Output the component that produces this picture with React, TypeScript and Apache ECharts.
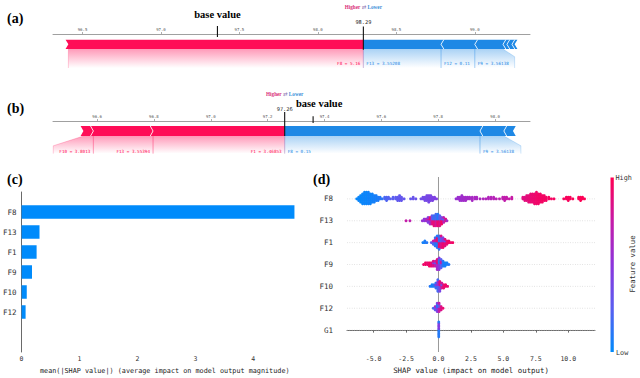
import React, { useEffect, useRef } from 'react';
import * as echarts from 'echarts';

// ---------------- (a) force plot ----------------
const forceA_ticks = [96.5, 97.0, 97.5, 98.0, 98.5, 99.0];
const forceA_base = 97.36;
const forceA_out = 98.29;
const forceA_redEdges = [96.41, 98.29];
const forceA_redLabels = ['F8 = 5.16'];
const forceA_blueEdges = [98.29, 98.785, 99.0, 99.18, 99.205, 99.237, 99.254];
const forceA_blueLabels = ['F13 = 3.55208', 'F12 = 0.11', 'F9 = 3.56138', '', '', ''];
const forceA_redReach = 96.41;
const forceA_blueReach = 99.254;

// ---------------- (b) force plot ----------------
const forceB_ticks = [96.6, 96.8, 97.0, 97.2, 97.4, 97.6, 97.8, 98.0];
const forceB_base = 97.36;
const forceB_out = 97.26;
const forceB_redEdges = [96.552, 96.587, 96.797, 97.26];
const forceB_redLabels = ['F10 = 3.8013', 'F13 = 3.55394', 'F1 = 3.46853'];
const forceB_blueEdges = [97.26, 97.947, 98.031, 98.063];
const forceB_blueLabels = ['F8 = 0.15', 'F9 = 3.56138', ''];
const forceB_redReach = 96.446;
const forceB_blueReach = 98.091;

// ---------------- (c) mean |SHAP| bars ----------------
const barFeatures = ['F8', 'F13', 'F1', 'F9', 'F10', 'F12'];
const barValues = [4.71, 0.31, 0.26, 0.18, 0.09, 0.07];
const barTicks = [0, 1, 2, 3, 4];

// ---------------- (d) beeswarm ----------------
const beeFeatures = ['F8', 'F13', 'F1', 'F9', 'F10', 'F12', 'G1'];
const beeTicks = [-5, -2.5, 0, 2.5, 5, 7.5, 10];
// columns: [shap value, number of points stacked, feature value (0 low .. 1 high)]
const beeF8 = [
  [-6.3, 1, 0.02], [-6.15, 3, 0.03], [-6.0, 5, 0.02], [-5.85, 7, 0.03], [-5.7, 8, 0.04], [-5.55, 8, 0.03],
  [-5.4, 8, 0.05], [-5.25, 7, 0.04], [-5.1, 6, 0.05], [-4.95, 5, 0.06], [-4.8, 4, 0.07], [-4.65, 3, 0.08],
  [-4.5, 2, 0.1], [-4.35, 1, 0.12],
  [-4.15, 2, 0.2], [-4.0, 3, 0.22], [-3.85, 2, 0.23], [-3.7, 1, 0.24], [-3.5, 2, 0.25], [-3.3, 2, 0.27],
  [-3.15, 3, 0.28], [-3.0, 4, 0.29], [-2.85, 3, 0.3], [-2.65, 1, 0.3],
  [-2.15, 1, 0.3], [-1.95, 2, 0.32], [-1.75, 1, 0.33],
  [-1.35, 1, 0.35], [-1.2, 2, 0.37], [-1.05, 3, 0.38], [-0.9, 4, 0.39], [-0.75, 5, 0.4], [-0.6, 4, 0.41],
  [-0.45, 3, 0.42], [-0.3, 2, 0.43], [-0.15, 1, 0.44],
  [1.35, 1, 0.55], [1.5, 2, 0.56], [1.65, 3, 0.57], [1.8, 4, 0.58], [1.95, 3, 0.59], [2.1, 3, 0.6],
  [2.25, 2, 0.6], [2.4, 2, 0.61], [2.6, 3, 0.62], [2.8, 2, 0.63], [2.95, 2, 0.63], [3.2, 1, 0.64],
  [3.45, 1, 0.65], [3.65, 1, 0.66], [3.85, 2, 0.66], [4.05, 2, 0.67], [4.25, 2, 0.68], [4.45, 1, 0.69],
  [4.7, 1, 0.7], [4.95, 2, 0.72], [5.1, 3, 0.73], [5.25, 2, 0.74], [5.45, 1, 0.75], [5.65, 2, 0.76],
  [6.5, 2, 0.86], [6.65, 3, 0.87], [6.8, 4, 0.88], [6.95, 5, 0.89], [7.1, 6, 0.9], [7.25, 6, 0.91],
  [7.4, 7, 0.92], [7.55, 8, 0.93], [7.7, 7, 0.94], [7.85, 6, 0.94], [8.0, 5, 0.95], [8.15, 4, 0.95],
  [8.3, 3, 0.95], [8.5, 2, 0.96], [8.7, 1, 0.96], [8.9, 1, 0.96],
  [9.65, 1, 0.97], [9.85, 2, 0.97], [10.0, 3, 0.97], [10.15, 2, 0.98], [10.35, 1, 0.98],
  [10.8, 2, 0.98], [10.95, 3, 0.99], [11.1, 2, 0.99], [11.25, 1, 0.99],
];
const beeF13 = [
  [-2.5, 1, 0.75], [-2.2, 1, 0.72],
  [-1.25, 1, 0.55], [-1.1, 2, 0.5], [-0.95, 2, 0.6], [-0.8, 3, 0.45], [-0.8, 1, 0.8], [-0.65, 3, 0.55],
  [-0.65, 2, 0.9], [-0.5, 3, 0.85], [-0.5, 3, 0.3], [-0.35, 4, 0.9], [-0.35, 3, 0.15], [-0.2, 4, 0.8],
  [-0.2, 4, 0.2], [-0.05, 4, 0.92], [-0.05, 4, 0.1], [0.1, 4, 0.85], [0.1, 3, 0.25], [0.25, 3, 0.95],
  [0.25, 2, 0.4], [0.4, 3, 0.7], [0.4, 1, 0.2], [0.55, 2, 0.85], [0.65, 1, 0.6],
];
const beeF1 = [
  [-1.2, 1, 0.05], [-1.05, 2, 0.08], [-0.9, 1, 0.1],
  [-0.55, 1, 0.3], [-0.4, 2, 0.2], [-0.4, 1, 0.75], [-0.25, 4, 0.12], [-0.25, 2, 0.8], [-0.1, 5, 0.1],
  [-0.1, 3, 0.9], [0.05, 4, 0.9], [0.05, 5, 0.15], [0.2, 5, 0.85], [0.2, 3, 0.3], [0.35, 4, 0.92],
  [0.35, 3, 0.45], [0.5, 4, 0.88], [0.5, 1, 0.3], [0.65, 3, 0.9], [0.8, 2, 0.95], [0.95, 1, 0.92], [1.1, 1, 0.95],
];
const beeF9 = [
  [-1.15, 1, 0.92], [-1.0, 2, 0.95], [-0.85, 2, 0.9], [-0.7, 3, 0.95], [-0.55, 3, 0.9], [-0.4, 3, 0.85],
  [-0.4, 1, 0.5], [-0.25, 3, 0.75], [-0.25, 1, 0.3], [-0.1, 4, 0.6], [-0.1, 3, 0.9], [0.05, 5, 0.5],
  [0.05, 3, 0.12], [0.2, 4, 0.25], [0.2, 2, 0.75], [0.35, 4, 0.1], [0.5, 3, 0.05], [0.65, 2, 0.06], [0.8, 1, 0.1],
];
const beeF10 = [
  [-0.65, 1, 0.1], [-0.5, 2, 0.05], [-0.35, 2, 0.12], [-0.2, 3, 0.15], [-0.2, 1, 0.5], [-0.05, 5, 0.2],
  [-0.05, 3, 0.55], [0.1, 4, 0.4], [0.1, 3, 0.88], [0.25, 3, 0.8], [0.25, 1, 0.3], [0.4, 3, 0.9],
  [0.55, 2, 0.95], [0.7, 1, 0.9],
];
const beeF12 = [
  [-0.4, 1, 0.2], [-0.25, 2, 0.3], [-0.25, 1, 0.6], [-0.1, 4, 0.45], [-0.1, 2, 0.1], [0.05, 4, 0.75],
  [0.05, 2, 0.35], [0.2, 3, 0.85], [0.35, 1, 0.9],
];
const beeG1 = [[0.02, 6, 0.1], [0.02, 4, 0.45]];
const beeRows = [beeF8, beeF13, beeF1, beeF9, beeF10, beeF12, beeG1];

// ---------------- styling ----------------
const RED = '#ff0d57';
const BLUE = '#1e88e5';
const MONO = '"DejaVu Sans Mono", "Liberation Mono", monospace';
const SERIF = '"Liberation Serif", "DejaVu Serif", serif';
const CMAP = ['#008bfb', '#5a5ef0', '#8c35dc', '#c51ba8', '#ff0052'];

const layoutA = {
  barTop: 5.7, barBot: 15, shadeBot: 34, diagY: 22.7, labelY: 29,
  baseLine: [-8, 3], outLine: [-7.6, 15.7], baseTextY: -19.3, baseTextDx: 0, outTextY: -11.6, hlY: -27.3,
};
const layoutB = {
  barTop: 5, barBot: 15, shadeBot: 32.6, diagY: 24.8, labelY: 30.3,
  baseLine: [-4.7, 2], outLine: [-9, 15], baseTextY: -17.7, baseTextDx: 6, outTextY: -11.7, hlY: -27.4,
};

function shade(color: string, a: number) {
  return new echarts.graphic.LinearGradient(0, 0, 0, 1, [
    { offset: 0, color: color.replace('A', String(a)) },
    { offset: 1, color: color.replace('A', '0') },
  ]);
}

function forceRenderer(d: any, L: any) {
  return (params: any, api: any) => {
    const X = (v: number) => api.coord([v, 0])[0];
    const y0 = api.coord([d.base, 0])[1];
    const y10 = api.coord([d.base, 10])[1];
    const Y = (o: number) => y0 + ((y10 - y0) * o) / 10;
    const t = Y(L.barTop), b = Y(L.barBot), m = (t + b) / 2, dd = 2.8;
    const sb = Y(L.shadeBot), dy = Y(L.diagY), ly = Y(L.labelY);
    const kids: any[] = [];
    const lab = (text: string, x: number, align: string, col: string) => ({
      type: 'text', z2: 5,
      style: { text, x, y: ly, align, verticalAlign: 'middle', fill: col, fontSize: 4.3, fontFamily: MONO },
    });
    const rE = d.redEdges, bE = d.blueEdges;
    for (let i = 0; i < rE.length - 1; i++) {
      if (!d.redLabels[i]) continue;
      const l = X(rE[i]), r = X(rE[i + 1]);
      const ll = i === 0 ? X(d.redReach) : l;
      kids.push({ type: 'polygon', z2: 1, shape: { points: [[ll, sb], [ll, dy], [l, b], [r, b], [r, sb]] }, style: { fill: shade('rgba(255,13,87,A)', 0.42) } });
      kids.push({ type: 'polyline', z2: 2, shape: { points: [[ll, sb], [ll, dy], [l, b]] }, style: { stroke: 'rgba(255,13,87,0.3)', lineWidth: 0.7, fill: null } });
      kids.push({ type: 'line', z2: 2, shape: { x1: r, y1: b, x2: r, y2: sb }, style: { stroke: 'rgba(255,13,87,0.3)', lineWidth: 0.7 } });
      kids.push(lab(d.redLabels[i], r - 3, 'right', RED));
    }
    let lastBlue = -1;
    d.blueLabels.forEach((s: string, i: number) => { if (s) lastBlue = i; });
    for (let i = 0; i < bE.length - 1; i++) {
      if (!d.blueLabels[i]) continue;
      const l = X(bE[i]), r = X(bE[i + 1]);
      const rr = i === lastBlue ? X(d.blueReach) : r;
      kids.push({ type: 'polygon', z2: 1, shape: { points: [[l, b], [r, b], [rr, dy], [rr, sb], [l, sb]] }, style: { fill: shade('rgba(30,136,229,A)', 0.38) } });
      kids.push({ type: 'line', z2: 2, shape: { x1: l, y1: b, x2: l, y2: sb }, style: { stroke: 'rgba(30,136,229,0.3)', lineWidth: 0.7 } });
      kids.push({ type: 'polyline', z2: 2, shape: { points: [[r, b], [rr, dy], [rr, sb]] }, style: { stroke: 'rgba(30,136,229,0.3)', lineWidth: 0.7, fill: null } });
      kids.push(lab(d.blueLabels[i], l + 3, 'left', BLUE));
    }
    for (let i = 0; i < rE.length - 1; i++) {
      const x0 = X(rE[i]), x1 = X(rE[i + 1]);
      const e = i === rE.length - 2 ? 0 : dd;
      kids.push({ type: 'polygon', z2: 3, shape: { points: [[x0 - dd, t], [x1 - e, t], [x1, m], [x1 - e, b], [x0 - dd, b], [x0, m]] }, style: { fill: RED } });
      if (i > 0) kids.push({ type: 'polyline', z2: 4, shape: { points: [[x0 - dd, t], [x0, m], [x0 - dd, b]] }, style: { stroke: '#fff', lineWidth: 0.8, fill: null } });
    }
    for (let i = 0; i < bE.length - 1; i++) {
      const x0 = X(bE[i]), x1 = X(bE[i + 1]);
      const s = i === 0 ? 0 : dd;
      kids.push({ type: 'polygon', z2: 3, shape: { points: [[x0 + s, t], [x1 + dd, t], [x1, m], [x1 + dd, b], [x0 + s, b], [x0, m]] }, style: { fill: BLUE } });
      if (i > 0) kids.push({ type: 'polyline', z2: 4, shape: { points: [[x0 + dd, t], [x0, m], [x0 + dd, b]] }, style: { stroke: '#fff', lineWidth: 0.8, fill: null } });
    }
    const xb = X(d.base), xo = X(d.out);
    kids.push({ type: 'line', z2: 6, shape: { x1: xb, y1: Y(L.baseLine[0]), x2: xb, y2: Y(L.baseLine[1]) }, style: { stroke: '#111', lineWidth: 1.1 } });
    kids.push({ type: 'line', z2: 6, shape: { x1: xo, y1: Y(L.outLine[0]), x2: xo, y2: Y(L.outLine[1]) }, style: { stroke: '#111', lineWidth: 1.1 } });
    kids.push({ type: 'text', z2: 6, style: { text: d.out.toFixed(2), x: xo, y: Y(L.outTextY), align: 'center', verticalAlign: 'middle', fill: '#222', fontSize: 5.3, fontFamily: MONO } });
    kids.push({
      type: 'text', z2: 6,
      style: {
        text: '{h|Higher} {a|⇄} {l|Lower}', x: xo, y: Y(L.hlY), align: 'center', verticalAlign: 'middle',
        fontSize: 5.2, fontFamily: SERIF, fontWeight: 'bold',
        rich: {
          h: { fill: '#d9307a', fontSize: 5.2, fontFamily: SERIF, fontWeight: 'bold' },
          a: { fill: '#8a6fb0', fontSize: 5.5, fontFamily: '"DejaVu Sans", sans-serif' },
          l: { fill: '#3b8fd8', fontSize: 5.2, fontFamily: SERIF, fontWeight: 'bold' },
        },
      },
    });
    return { type: 'group', children: kids };
  };
}

function swarm(cols: number[][], row: number): number[][] {
  const STEP = 0.075;
  const groups = new Map<number, { left: number; f: number }[]>();
  const order: number[] = [];
  cols.forEach((c) => {
    if (!groups.has(c[0])) { groups.set(c[0], []); order.push(c[0]); }
    groups.get(c[0])!.push({ left: c[1], f: c[2] });
  });
  const pts: number[][] = [];
  order.forEach((x) => {
    const g = groups.get(x)!;
    const seq: number[] = [];
    let any = true;
    while (any) {
      any = false;
      g.forEach((c) => { if (c.left > 0) { seq.push(c.f); c.left--; any = true; } });
    }
    seq.forEach((f, i) => {
      const layer = Math.ceil(i / 2) * (i % 2 === 1 ? 1 : -1);
      pts.push([x, row + layer * STEP, f]);
    });
  });
  return pts;
}

function forceAxes(gridIndex: number, min: number, max: number, ticks: number[], h: number) {
  const x = {
    type: 'value', gridIndex, min, max, position: 'top',
    axisLine: { lineStyle: { color: '#888', width: 0.8 } },
    axisTick: { customValues: ticks, length: 2, lineStyle: { color: '#777', width: 0.6 } },
    axisLabel: { customValues: ticks, formatter: (v: number) => v.toFixed(1), fontSize: 4, color: '#555', margin: 2.5, fontFamily: MONO },
    splitLine: { show: false },
  };
  const y = { type: 'value', gridIndex, min: 0, max: h, inverse: true, show: false };
  return { x, y };
}

export default function App() {
  const ref = useRef<HTMLDivElement>(null);
  useEffect(() => {
    const chart = echarts.init(ref.current!, null, { renderer: 'svg' });
    const fa = forceAxes(0, 96.312, 99.352, forceA_ticks, 36);
    const fb = forceAxes(1, 96.445, 98.123, forceB_ticks, 34);
    const nRows = beeFeatures.length;
    const beeData: number[][] = [];
    beeRows.forEach((cols, i) => swarm(cols, nRows - 1 - i).forEach((p) => beeData.push(p)));
    const barCats = ['', ...barFeatures, '', ''];
    const barData = ['-', ...barValues, '-', '-'];

    const dA = { base: forceA_base, out: forceA_out, redEdges: forceA_redEdges, redLabels: forceA_redLabels, blueEdges: forceA_blueEdges, blueLabels: forceA_blueLabels, redReach: forceA_redReach, blueReach: forceA_blueReach };
    const dB = { base: forceB_base, out: forceB_out, redEdges: forceB_redEdges, redLabels: forceB_redLabels, blueEdges: forceB_blueEdges, blueLabels: forceB_blueLabels, redReach: forceB_redReach, blueReach: forceB_blueReach };

    const serifText = (t: string, x: number, y: number, size: number, align: string) => ({
      type: 'text', x, y,
      style: { text: t, fill: '#000', fontSize: size, fontWeight: 'bold', fontFamily: SERIF, align, textAlign: align, verticalAlign: 'middle', textVerticalAlign: 'middle' },
    });

    chart.setOption({
      animation: false,
      backgroundColor: '#fff',
      grid: [
        { left: 53, top: 34, width: 477, height: 36 },
        { left: 53, top: 121, width: 477, height: 34 },
        { left: 20, top: 192, width: 288, height: 160 },
        { left: 347, top: 177, width: 248, height: 175 },
      ],
      xAxis: [
        fa.x, fb.x,
        {
          type: 'value', gridIndex: 2, min: 0, max: 4.944,
          axisLine: { lineStyle: { color: '#444', width: 0.8 } },
          axisTick: { customValues: barTicks, length: 2.5, lineStyle: { color: '#444', width: 0.8 } },
          axisLabel: { customValues: barTicks, fontSize: 6.5, color: '#333', margin: 3.5, fontFamily: MONO },
          splitLine: { show: false },
          name: 'mean(|SHAP value|) (average impact on model output magnitude)',
          nameLocation: 'middle', nameGap: 15,
          nameTextStyle: { fontSize: 6.8, color: '#222', fontFamily: MONO },
        },
        {
          type: 'value', gridIndex: 3, min: -7.05, max: 12.06,
          axisLine: { lineStyle: { color: '#444', width: 0.8 } },
          axisTick: { customValues: beeTicks, length: 2.5, lineStyle: { color: '#444', width: 0.8 } },
          axisLabel: { customValues: beeTicks, formatter: (v: number) => v.toFixed(1), fontSize: 6.5, color: '#333', margin: 3.5, fontFamily: MONO },
          splitLine: { show: false },
          name: 'SHAP value (impact on model output)',
          nameLocation: 'middle', nameGap: 15,
          nameTextStyle: { fontSize: 7.4, color: '#222', fontFamily: MONO },
        },
      ],
      yAxis: [
        fa.y, fb.y,
        {
          type: 'category', gridIndex: 2, data: barCats, inverse: true, boundaryGap: false,
          axisLine: { lineStyle: { color: '#444', width: 0.8 } },
          axisTick: { show: false },
          axisLabel: { fontSize: 7.5, color: '#333', margin: 5, fontFamily: MONO, interval: 0 },
          splitLine: { show: false },
        },
        {
          type: 'value', gridIndex: 3, min: -1, max: 7, interval: 1,
          axisLine: { show: false }, axisTick: { show: false }, splitLine: { show: false },
          axisLabel: { formatter: (v: number) => beeFeatures[nRows - 1 - v] ?? '', fontSize: 7.5, color: '#333', margin: 14, fontFamily: MONO },
        },
      ],
      visualMap: {
        show: false, type: 'continuous', seriesIndex: 4, dimension: 2, min: 0, max: 1,
        inRange: { color: CMAP },
      },
      series: [
        { type: 'custom', xAxisIndex: 0, yAxisIndex: 0, clip: false, silent: true, data: [[forceA_base, 0]], renderItem: forceRenderer(dA, layoutA) },
        { type: 'custom', xAxisIndex: 1, yAxisIndex: 1, clip: false, silent: true, data: [[forceB_base, 0]], renderItem: forceRenderer(dB, layoutB) },
        { type: 'bar', xAxisIndex: 2, yAxisIndex: 2, data: barData, barWidth: 13.5, itemStyle: { color: '#008bfb' }, silent: true },
        {
          type: 'custom', xAxisIndex: 3, yAxisIndex: 3, clip: false, silent: true, z: 1, data: [[0, 0]],
          renderItem: (params: any, api: any) => {
            const kids: any[] = [];
            for (let r = 0; r < nRows; r++) {
              const p0 = api.coord([-7.05, r]), p1 = api.coord([12.06, r]);
              kids.push({ type: 'line', shape: { x1: p0[0], y1: p0[1], x2: p1[0], y2: p1[1] }, style: { stroke: '#cfcfcf', lineWidth: 0.7, lineDash: [0.8, 1.6] } });
            }
            const z0 = api.coord([0, 7]), z1 = api.coord([0, -1]);
            kids.push({ type: 'line', shape: { x1: z0[0], y1: z0[1], x2: z1[0], y2: z1[1] }, style: { stroke: '#999', lineWidth: 1 } });
            return { type: 'group', children: kids };
          },
        },
        { type: 'scatter', xAxisIndex: 3, yAxisIndex: 3, z: 3, data: beeData, symbolSize: 2.9, itemStyle: { opacity: 1 }, silent: true },
      ],
    });

    // "base value" captions positioned from the axis scales
    const bxA = chart.convertToPixel({ xAxisIndex: 0 }, forceA_base) as number;
    const bxB = chart.convertToPixel({ xAxisIndex: 1 }, forceB_base) as number;
    const byA = chart.convertToPixel({ yAxisIndex: 0 }, 0) as number;
    const byB = chart.convertToPixel({ yAxisIndex: 1 }, 0) as number;

    chart.setOption({
      graphic: [
        serifText('(a)', 7, 18, 14, 'left'),
        serifText('(b)', 7, 108, 14, 'left'),
        serifText('(c)', 7, 179, 14, 'left'),
        serifText('(d)', 313, 179, 14, 'left'),
        serifText('base value', bxA + layoutA.baseTextDx, byA + layoutA.baseTextY, 10.5, 'center'),
        serifText('base value', bxB + layoutB.baseTextDx, byB + layoutB.baseTextY, 10.5, 'center'),
        {
          type: 'rect', shape: { x: 610.5, y: 177.5, width: 3.3, height: 174.5 },
          style: { fill: new echarts.graphic.LinearGradient(0, 1, 0, 0, CMAP.map((c, i) => ({ offset: i / (CMAP.length - 1), color: c }))) },
        },
        { type: 'text', x: 615.5, y: 177.5, style: { text: 'High', fontSize: 6.8, fill: '#333', fontFamily: MONO, align: 'left', verticalAlign: 'middle', textVerticalAlign: 'middle' } },
        { type: 'text', x: 616, y: 352.5, style: { text: 'Low', fontSize: 6.8, fill: '#333', fontFamily: MONO, align: 'left', verticalAlign: 'middle', textVerticalAlign: 'middle' } },
        { type: 'text', x: 632.5, y: 264, rotation: Math.PI / 2, style: { text: 'Feature value', fontSize: 7.3, fill: '#333', fontFamily: MONO, align: 'center', textAlign: 'center', verticalAlign: 'middle', textVerticalAlign: 'middle' } },
      ],
    });
    return () => chart.dispose();
  }, []);
  return <div ref={ref} style={{ position: 'absolute', left: 0, top: 0, width: 640, height: 378 }} />;
}
